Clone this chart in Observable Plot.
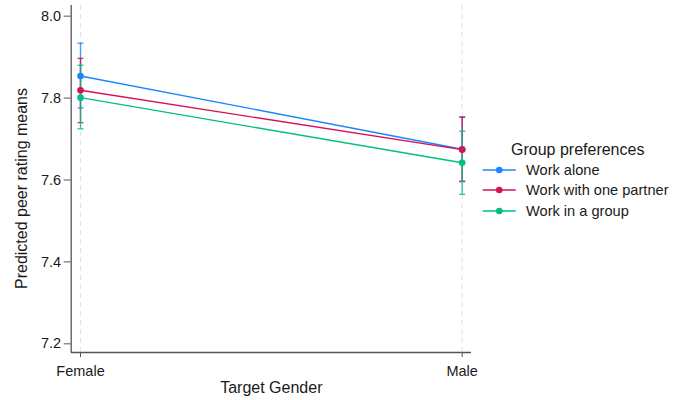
<!DOCTYPE html>
<html>
<head>
<meta charset="utf-8">
<script src="https://cdn.jsdelivr.net/npm/d3@7"></script>
<script src="https://cdn.jsdelivr.net/npm/@observablehq/plot@0.6"></script>
<style>
  html, body { margin: 0; padding: 0; background: #fff; }
  #wrap { position: relative; width: 673px; height: 400px; font-family: "Liberation Sans", Arial, sans-serif; color: #1a1a1a; }
  #legend { position: absolute; left: 480px; top: 138px; }
  #legend .title { position: absolute; left: 31px; top: 0; font-size: 16px; white-space: nowrap; line-height: 24px; }
  #legend .row { position: absolute; left: 0; display: flex; align-items: center; white-space: nowrap; font-size: 14.6px; height: 20px; }
  #legend .row svg { margin-right: 10px; }
</style>
</head>
<body>
<div id="wrap"></div>
<script>
// ---- data ----
const genders = ["Female", "Male"];
const seriesNames = ["Work alone", "Work with one partner", "Work in a group"];
const seriesColors = ["#1a85ff", "#d41159", "#00bf7f"];

const aloneMean   = [7.854, 7.675];
const aloneLow    = [7.776, 7.596];
const aloneHigh   = [7.934, 7.754];

const partnerMean = [7.819, 7.674];
const partnerLow  = [7.740, 7.597];
const partnerHigh = [7.897, 7.753];

const groupMean   = [7.801, 7.642];
const groupLow    = [7.725, 7.565];
const groupHigh   = [7.880, 7.719];

const yTicks = [7.2, 7.4, 7.6, 7.8, 8.0];

// ---- build table ----
const means = [aloneMean, partnerMean, groupMean];
const lows = [aloneLow, partnerLow, groupLow];
const highs = [aloneHigh, partnerHigh, groupHigh];
const rows = [];
seriesNames.forEach((s, si) => {
  genders.forEach((g, gi) => {
    rows.push({series: s, gi, mean: means[si][gi], low: lows[si][gi], high: highs[si][gi]});
  });
});

const xDomain = [-0.0244, 1.0244];
const yDomain = [7.1788, 8.026];

const capSymbol = {
  draw(context, size) {
    const w = 3;
    context.moveTo(-w, 0);
    context.lineTo(w, 0);
  }
};

const colorScale = {domain: seriesNames, range: seriesColors};

const marks = [
  // dashed vertical gridlines
  Plot.ruleX(genders.map((g, i) => i), {stroke: "#e4e4e4", strokeWidth: 1.2, strokeDasharray: "5,4"}),
  // axis lines
  Plot.ruleY([yDomain[0]], {stroke: "#555", strokeWidth: 1.3}),
  Plot.ruleX([xDomain[0]], {stroke: "#555", strokeWidth: 1.3}),
  Plot.axisY({ticks: yTicks, tickFormat: d3.format(".1f"), tickSize: 7, tickPadding: 3, fontSize: 14.5, stroke: "#555", fill: "#1a1a1a", label: null}),
  Plot.axisX({ticks: [0, 1], tickFormat: i => genders[i], tickSize: 5, tickPadding: 8.5, fontSize: 14.5, stroke: "#555", fill: "#1a1a1a", label: null}),
];

seriesNames.forEach((s, si) => {
  const d = rows.filter(r => r.series === s);
  const c = seriesColors[si];
  marks.push(
    Plot.ruleX(d, {x: "gi", y1: "low", y2: "high", stroke: c, strokeWidth: 1.4, strokeOpacity: 0.8}),
    Plot.dot(d, {x: "gi", y: "low", symbol: capSymbol, r: 3, stroke: c, strokeWidth: 1.4, strokeOpacity: 0.8}),
    Plot.dot(d, {x: "gi", y: "high", symbol: capSymbol, r: 3, stroke: c, strokeWidth: 1.4, strokeOpacity: 0.8})
  );
});
seriesNames.forEach((s, si) => {
  const d = rows.filter(r => r.series === s);
  const c = seriesColors[si];
  marks.push(
    Plot.line(d, {x: "gi", y: "mean", stroke: c, strokeWidth: 1.4}),
    Plot.dot(d, {x: "gi", y: "mean", r: 3.3, fill: c, stroke: "none"})
  );
});

// axis titles
marks.push(
  Plot.text(["Predicted peer rating means"], {frameAnchor: "left", rotate: -90, dx: -49.7, dy: 9.5, fontSize: 16, fill: "#1a1a1a", textAnchor: "middle", lineAnchor: "middle"}),
  Plot.text(["Target Gender"], {frameAnchor: "bottom", dy: 35, fontSize: 16, fill: "#1a1a1a", textAnchor: "middle", lineAnchor: "middle"})
);

const chart = Plot.plot({
  width: 673,
  height: 400,
  marginLeft: 70.7,
  marginRight: 202,
  marginTop: 5,
  marginBottom: 48,
  style: {fontFamily: '"Liberation Sans", Arial, sans-serif', background: "#fff", overflow: "visible"},
  x: {type: "linear", domain: xDomain},
  y: {type: "linear", domain: yDomain},
  marks
});

const wrap = document.getElementById("wrap");
wrap.appendChild(chart);

// legend (HTML, beside the plot)
const legend = document.createElement("div");
legend.id = "legend";
const title = document.createElement("div");
title.className = "title";
title.textContent = "Group preferences";
legend.appendChild(title);
seriesNames.forEach((s, i) => {
  const row = document.createElement("div");
  row.className = "row";
  row.style.top = (22 + i * 20.3) + "px";
  const c = seriesColors[i];
  row.innerHTML = `<svg width="36" height="10"><line x1="2.7" y1="5" x2="35.7" y2="5" stroke="${c}" stroke-width="1.4"/><circle cx="19.3" cy="5" r="3.3" fill="${c}"/></svg><span>${s}</span>`;
  legend.appendChild(row);
});
wrap.appendChild(legend);
</script>
</body>
</html>
